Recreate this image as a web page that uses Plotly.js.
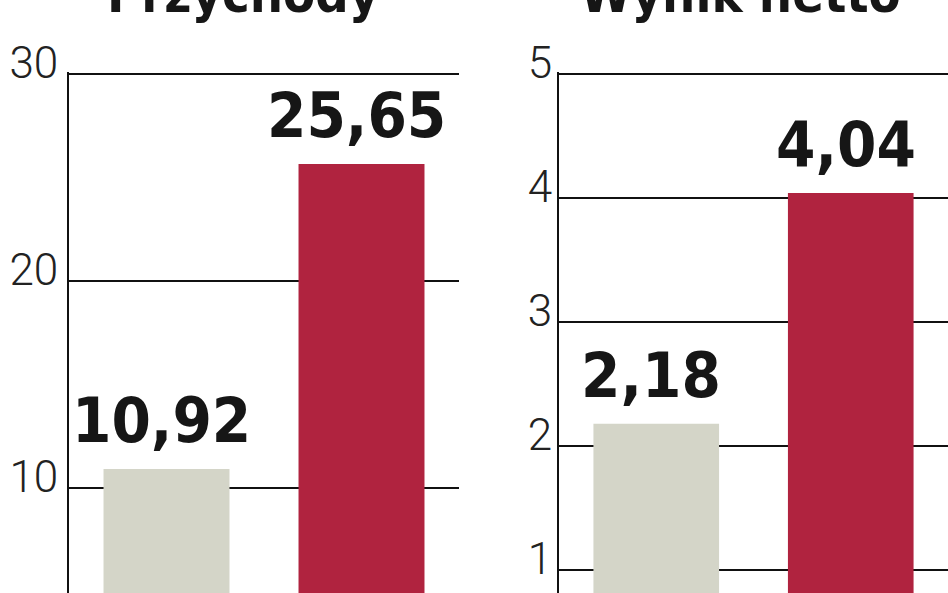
<!DOCTYPE html>
<html>
<head>
<meta charset="utf-8">
<script src="https://cdn.plot.ly/plotly-3.0.1.min.js"></script>
<style>html,body{margin:0;padding:0;background:#fff;}#chart{width:948px;height:593px;}</style>
</head>
<body>
<div id="chart"></div>
<script>
// Data
const categories = ["2006", "2007"];
const revenueValues = [10.92, 25.65];
const netValues = [2.18, 4.04];
const revenueLabels = ["10,92", "25,65"];
const netLabels = ["2,18", "4,04"];
const revenueTicks = [10, 20, 30];
const netTicks = [1, 2, 3, 4, 5];
const titles = ["Przychody", "Wynik netto"];
const barColors = ["#d4d5c8", "#b0233f"];

const condensed = "DejaVu Sans Condensed, DejaVu Sans, sans-serif";
const thin = "Roboto, DejaVu Sans Condensed, sans-serif";

const traces = [
  {type: "bar", x: categories, y: revenueValues, xaxis: "x", yaxis: "y",
   marker: {color: barColors, line: {width: 0}}, hoverinfo: "none", showlegend: false},
  {type: "bar", x: categories, y: netValues, xaxis: "x2", yaxis: "y2",
   marker: {color: barColors, line: {width: 0}}, hoverinfo: "none", showlegend: false}
];

// x given as category index (category names are numeric-looking strings)
const valueAnn = (vals, labels, xr, yr) => vals.map((v, i) => ({
  x: i, y: v, xref: xr, yref: yr, text: labels[i],
  showarrow: false, yanchor: "bottom", xanchor: "center", yshift: 10, xshift: -5,
  font: {family: condensed, size: 63, color: "#161616", weight: 700}
}));

const titleAnn = [
  {x: 243/948, text: titles[0]},
  {x: 740/948, text: titles[1]}
].map(t => ({
  x: t.x, y: 1, xref: "paper", yref: "paper", text: t.text, showarrow: false,
  xanchor: "center", yanchor: "middle", yshift: 78,
  font: {family: condensed, size: 52, color: "#161616", weight: 700}
}));

const yCommon = {
  showline: true, linecolor: "#111", linewidth: 2,
  showgrid: true, gridcolor: "#111", gridwidth: 2,
  zeroline: false, ticks: "", tickmode: "array",
  ticklabelshift: -11,
  tickfont: {family: thin, size: 44, color: "#222", weight: 300},
  fixedrange: true
};
const xCommon = {
  type: "category",
  showticklabels: false, showline: false, showgrid: false, zeroline: false,
  ticks: "", range: [-0.5, 1.5], fixedrange: true
};

const layout = {
  width: 948, height: 593,
  margin: {l: 0, r: 0, t: 72, b: 0, pad: 0},
  paper_bgcolor: "#fff", plot_bgcolor: "rgba(0,0,0,0)",
  bargap: 0.354,
  showlegend: false,
  xaxis: Object.assign({}, xCommon, {domain: [69/948, 459/948], anchor: "y"}),
  xaxis2: Object.assign({}, xCommon, {domain: [559/948, 1], anchor: "y2"}),
  yaxis: Object.assign({}, yCommon, {anchor: "x", range: [30 - 519/20.7, 30 + 2/20.7],
    ticklabelstandoff: 0,
    tickvals: revenueTicks, ticktext: revenueTicks.map(String)}),
  yaxis2: Object.assign({}, yCommon, {anchor: "x2", range: [5 - 519/124, 5 + 2/124],
    ticklabelstandoff: -4,
    tickvals: netTicks, ticktext: netTicks.map(String)}),
  annotations: titleAnn
    .concat(valueAnn(revenueValues, revenueLabels, "x", "y"))
    .concat(valueAnn(netValues, netLabels, "x2", "y2"))
};

Plotly.newPlot("chart", traces, layout, {staticPlot: true, displayModeBar: false});
</script>
</body>
</html>
